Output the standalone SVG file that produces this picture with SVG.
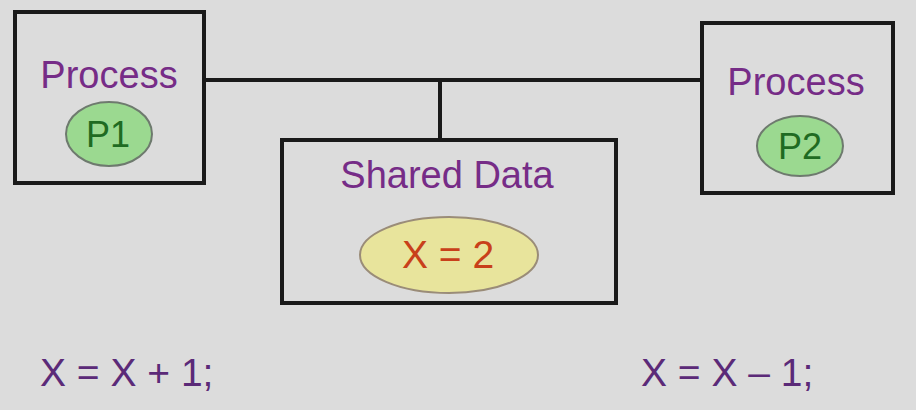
<svg xmlns="http://www.w3.org/2000/svg" width="916" height="410" viewBox="0 0 916 410">
<style>
.box{fill:#dcdcdc;stroke:#1a1a1a;stroke-width:4}
.t{font-family:"Liberation Sans",Arial,sans-serif;}
.purple{fill:#762c87}
.code{fill:#5b2a78}
.green{fill:#9bd990;stroke:#6e7a6e;stroke-width:2}
.gt{fill:#1f6b22}
.yel{fill:#e8e49c;stroke:#9a8c78;stroke-width:2}
.yt{fill:#c8401a}
.line{stroke:#1a1a1a;stroke-width:4;fill:none}
</style>
<rect width="916" height="410" fill="#dcdcdc"/>
<g id="connectors">
<line class="line" x1="205" y1="80" x2="702" y2="80"/>
<line class="line" x1="440" y1="80" x2="440" y2="140"/>
</g>
<g id="process1">
<rect class="box" x="15" y="12" width="189" height="171"/>
<text class="t purple" x="109" y="88" font-size="38" text-anchor="middle">Process</text>
<ellipse class="green" cx="109" cy="134" rx="43" ry="32"/>
<text class="t gt" x="108" y="147" font-size="36" text-anchor="middle">P1</text>
</g>
<g id="shared">
<rect class="box" x="282" y="140" width="334" height="163"/>
<text class="t purple" x="447" y="188" font-size="38" text-anchor="middle">Shared Data</text>
<ellipse class="yel" cx="449" cy="255" rx="89" ry="38"/>
<text class="t yt" x="448" y="268" font-size="39" text-anchor="middle">X = 2</text>
</g>
<g id="process2">
<rect class="box" x="702" y="23" width="191" height="170"/>
<text class="t purple" x="796" y="95" font-size="38" text-anchor="middle">Process</text>
<ellipse class="green" cx="800" cy="146" rx="43" ry="30"/>
<text class="t gt" x="800" y="159" font-size="36" text-anchor="middle">P2</text>
</g>
<g id="code">
<text class="t code" x="40" y="386" font-size="39">X = X + 1;</text>
<text class="t code" x="641" y="386" font-size="39">X = X – 1;</text>
</g>
</svg>
